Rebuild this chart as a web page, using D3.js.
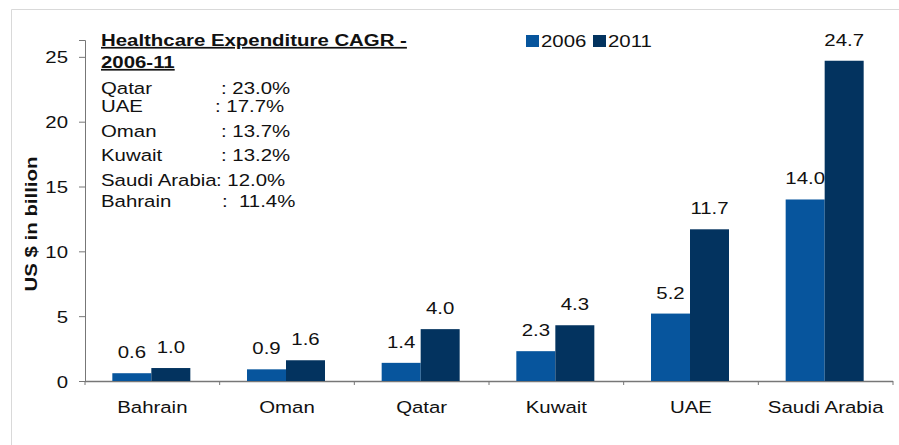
<!DOCTYPE html>
<html>
<head>
<meta charset="utf-8">
<script src="https://cdn.jsdelivr.net/npm/d3@7"></script>
<style>
  body { margin: 0; background: #fff; }
  svg text { font-family: "Liberation Sans", Arial, sans-serif; fill: #111; }
</style>
</head>
<body>
<div id="chart"></div>
<script>
// chart data
var countries = ["Bahrain", "Oman", "Qatar", "Kuwait", "UAE", "Saudi Arabia"];
var years = ["2006", "2011"];
var values2006 = [0.6, 0.9, 1.4, 2.3, 5.2, 14.0];
var values2011 = [1.0, 1.6, 4.0, 4.3, 11.7, 24.7];
var yTicks = [0, 5, 10, 15, 20, 25];
var cagrNames = ["Qatar", "UAE", "Oman", "Kuwait", "Saudi Arabia", "Bahrain"];
var cagrValues = [": 23.0%", ": 17.7%", ": 13.7%", ": 13.2%", ": 12.0%", ":  11.4%"];

// the original text is drawn a bit wider than normal, so stretch it horizontally
var SX = 1.2;

function stretch(sel, rot) {
    sel.each(function() {
        var t = d3.select(this);
        var x = +t.attr("x") || 0, y = +t.attr("y") || 0;
        t.attr("x", null).attr("y", null)
         .attr("transform", "translate(" + x + "," + y + ")" + (rot ? " rotate(" + rot + ")" : "") + " scale(" + SX + ",1)");
    });
}

function main() {
    var width = 899,
        height = 445;

    var svg = d3.select("#chart").append("svg")
        .attr("width", width)
        .attr("height", height);

    // light frame around the chart
    svg.append("path")
        .attr("d", "M11.5," + height + "V9.5H" + width)
        .attr("fill", "none")
        .attr("stroke", "#d9d9d9")
        .attr("stroke-width", 1);

    var margin = { left: 85, right: 6 };

    var x = d3.scaleBand()
        .domain(countries)
        .range([margin.left, width - margin.right]);

    var x1 = d3.scaleBand()
        .domain(years)
        .range([0, 78]);

    var y = d3.scaleLinear()
        .domain([0, 26.3])
        .range([381, 40]);

    var color = d3.scaleOrdinal()
        .domain(years)
        .range(["#07559d", "#03335f"]);

    // y axis
    var yAxis = svg.append("g")
        .attr("transform", "translate(" + margin.left + ",0)")
        .call(d3.axisLeft(y).tickValues(yTicks).tickSize(6).tickPadding(6));
    yAxis.select(".domain").attr("stroke", "#777");
    yAxis.selectAll(".tick line").attr("stroke", "#777");
    yAxis.selectAll("text")
        .style("font-size", "17px").attr("fill", "#111")
        .attr("x", -17).attr("dy", null).attr("y", 6);
    stretch(yAxis.selectAll("text"));

    // x axis with ticks at band boundaries
    var xAxisG = svg.append("g")
        .attr("transform", "translate(0," + y(0) + ")");
    xAxisG.append("line")
        .attr("x1", margin.left).attr("x2", width - margin.right)
        .attr("y1", 0.5).attr("y2", 0.5)
        .attr("stroke", "#777").attr("stroke-width", 1.5);
    var bounds = countries.map(function(c) { return x(c); }).concat([x.range()[1]]);
    xAxisG.selectAll(".xtick")
        .data(bounds)
        .enter().append("line")
        .attr("x1", function(d) { return d; })
        .attr("x2", function(d) { return d; })
        .attr("y1", 0).attr("y2", 4)
        .attr("stroke", "#777");
    var xl = xAxisG.selectAll(".xlabel")
        .data(countries)
        .enter().append("text")
        .attr("x", function(d) { return x(d) + x.bandwidth() / 2; })
        .attr("y", 32)
        .attr("text-anchor", "middle")
        .style("font-size", "17px")
        .attr("fill", "#111")
        .text(function(d) { return d; });
    stretch(xl);

    // y title
    var yt = svg.append("text")
        .attr("x", 37).attr("y", 224)
        .attr("text-anchor", "middle")
        .style("font-size", "17px")
        .style("font-weight", "bold")
        .text("US $ in billion");
    stretch(yt, -90);

    // bars
    var rows = countries.map(function(c, i) {
        return { country: c, vals: [
            { year: "2006", value: values2006[i] },
            { year: "2011", value: values2011[i] }
        ] };
    });

    var groups = svg.append("g").selectAll(".group")
        .data(rows)
        .enter().append("g")
        .attr("transform", function(d) {
            return "translate(" + (x(d.country) + x.bandwidth() / 2 - 40) + ",0)";
        });

    groups.selectAll("rect")
        .data(function(d) { return d.vals; })
        .enter().append("rect")
        .attr("x", function(d) { return x1(d.year); })
        .attr("width", x1.bandwidth())
        .attr("y", function(d) { return y(d.value); })
        .attr("height", function(d) { return y(0) - y(d.value); })
        .attr("fill", function(d) { return color(d.year); });

    var vl = groups.selectAll(".val")
        .data(function(d) { return d.vals; })
        .enter().append("text")
        .attr("x", function(d) { return x1(d.year) + x1.bandwidth() / 2; })
        .attr("y", function(d) { return y(d.value) - 15; })
        .attr("text-anchor", "middle")
        .style("font-size", "17px")
        .text(function(d) { return d.value.toFixed(1); });
    stretch(vl);

    // legend
    var legend = svg.append("g").attr("transform", "translate(526,33)");
    var lx = [0, 67];
    years.forEach(function(yr, i) {
        legend.append("rect")
            .attr("x", lx[i]).attr("y", 2)
            .attr("width", 13).attr("height", 12)
            .attr("fill", color(yr));
        stretch(legend.append("text")
            .attr("x", lx[i] + 15).attr("y", 14)
            .style("font-size", "17px")
            .text(yr));
    });

    // CAGR annotation
    var note = svg.append("g");
    stretch(note.append("text")
        .attr("x", 101).attr("y", 46)
        .style("font-size", "17px")
        .style("font-weight", "bold")
        .style("text-decoration", "underline")
        .text("Healthcare Expenditure CAGR -"));
    stretch(note.append("text")
        .attr("x", 101).attr("y", 68)
        .style("font-size", "17px")
        .style("font-weight", "bold")
        .style("text-decoration", "underline")
        .text("2006-11"));

    var lineY = [94, 112, 137, 161, 186, 207];
    var colonX = [221, 215, 221, 221, 216, 222];
    stretch(note.selectAll(".cname")
        .data(cagrNames)
        .enter().append("text")
        .attr("x", 101)
        .attr("y", function(d, i) { return lineY[i]; })
        .style("font-size", "17px")
        .text(function(d) { return d; }));
    stretch(note.selectAll(".cval")
        .data(cagrValues)
        .enter().append("text")
        .attr("x", function(d, i) { return colonX[i]; })
        .attr("y", function(d, i) { return lineY[i]; })
        .style("font-size", "17px")
        .style("white-space", "pre")
        .text(function(d) { return d; }));
}
main();
</script>
</body>
</html>
